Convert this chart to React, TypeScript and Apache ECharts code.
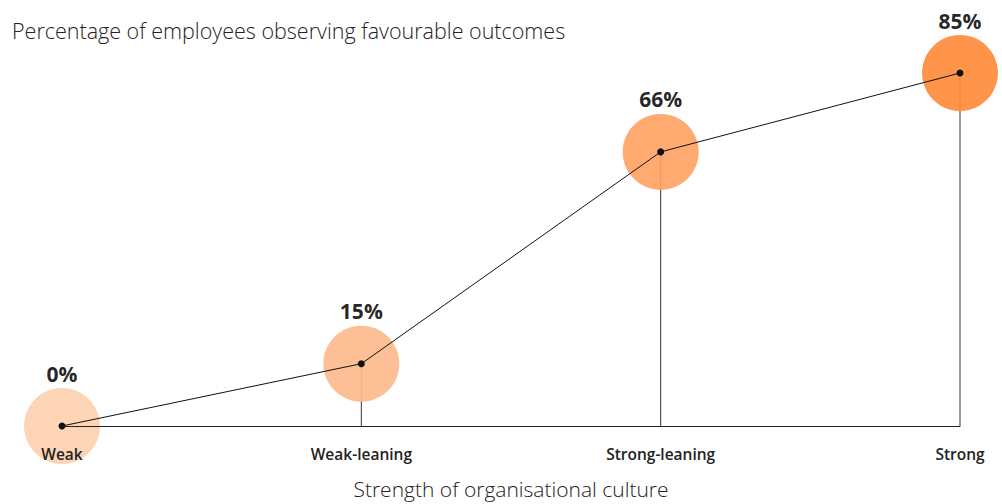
import React, { useEffect, useRef } from "react";
import * as echarts from "echarts";

const categories = ["Weak", "Weak-leaning", "Strong-leaning", "Strong"];
const values = [0, 15, 66, 85];
const circleColors = ["#FDD0B0", "#FDBA8C", "#FFA364", "#FF8C3C"];
const titleText = "Percentage of employees observing favourable outcomes";
const xAxisTitle = "Strength of organisational culture";

const FONT = "'Open Sans', 'Noto Sans', sans-serif";

export default function App() {
  const ref = useRef<HTMLDivElement>(null);
  useEffect(() => {
    if (!ref.current) return;
    const chart = echarts.init(ref.current, null, { renderer: "svg" });
    chart.setOption({
      animation: false,
      backgroundColor: "#ffffff",
      title: {
        text: titleText,
        left: 7,
        top: 14,
        textStyle: { fontFamily: FONT, fontSize: 21.5, fontWeight: 300, color: "#222" },
      },
      grid: {
        left: 62,
        right: 42,
        top: 73,
        bottom: 78,
        containLabel: false,
        outerBoundsMode: "none",
      },
      xAxis: {
        type: "category",
        data: categories,
        boundaryGap: false,
        z: 10,
        axisLine: { show: true, lineStyle: { color: "#222", width: 1 } },
        axisTick: { show: false },
        axisLabel: {
          margin: 20,
          fontFamily: FONT,
          fontSize: 15.5,
          fontWeight: 600,
          color: "#222",
        },
        name: xAxisTitle,
        nameLocation: "middle",
        nameGap: 51,
        nameTextStyle: {
          fontFamily: FONT,
          fontSize: 21,
          lineHeight: 24,
          fontWeight: 300,
          color: "#222",
        },
      },
      yAxis: {
        type: "value",
        min: 0,
        max: 85,
        show: false,
      },
      series: [
        {
          type: "bar",
          data: values,
          barWidth: 1,
          itemStyle: { color: "#333" },
          z: 1,
        },
        {
          type: "scatter",
          data: values.map((v, i) => ({ value: v, itemStyle: { color: circleColors[i] } })),
          symbolSize: 76,
          itemStyle: { opacity: 0.92 },
          label: {
            show: true,
            position: "top",
            distance: 4,
            formatter: (p: any) => `${p.value}%`,
            fontFamily: FONT,
            fontSize: 21,
            fontWeight: "bold",
            color: "#111",
          },
          z: 2,
        },
        {
          type: "line",
          data: values,
          symbol: "circle",
          symbolSize: 7,
          showSymbol: true,
          lineStyle: { color: "#111", width: 1 },
          itemStyle: { color: "#111" },
          z: 3,
        },
      ],
    });
    return () => chart.dispose();
  }, []);
  return (
    <div
      ref={ref}
      style={{ position: "fixed", left: 0, top: 0, width: 1002, height: 504 }}
    />
  );
}
